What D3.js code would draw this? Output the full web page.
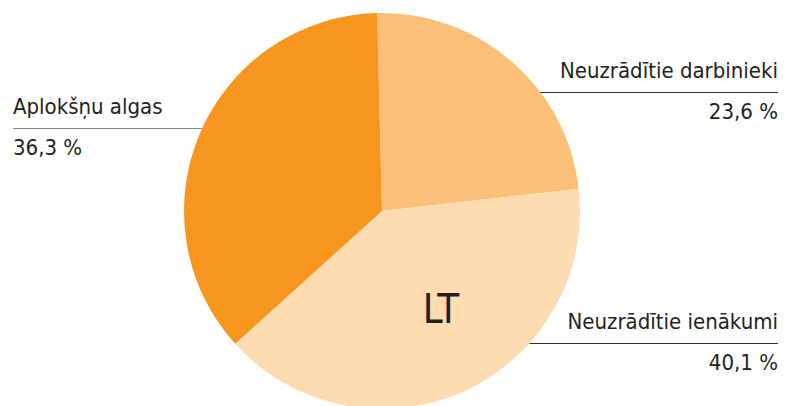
<!DOCTYPE html>
<html>
<head>
<meta charset="utf-8">
<script src="https://cdn.jsdelivr.net/npm/d3@7"></script>
<style>
  body { margin: 0; background: #fff; }
  text { font-family: "DejaVu Sans Condensed", "DejaVu Sans", sans-serif; fill: #231f20; }
</style>
</head>
<body>
<script>
// data
const categories = ["Neuzrādītie darbinieki", "Neuzrādītie ienākumi", "Aplokšņu algas"];
const values = [23.6, 40.1, 36.3];
const valueLabels = ["23,6 %", "40,1 %", "36,3 %"];
const colors = ["#fcbf77", "#fedbb1", "#f7961f"];
const centerLabel = "LT";

const width = 795, height = 406;
const cx = 382, cy = 211, r = 198;

const svg = d3.select("body").append("svg")
  .attr("width", width)
  .attr("height", height);

const startAngle = -0.025;
const pie = d3.pie().sort(null)
  .startAngle(startAngle)
  .endAngle(startAngle + 2 * Math.PI);
const arcs = pie(values);
const arc = d3.arc().innerRadius(0).outerRadius(r);

const g = svg.append("g").attr("transform", `translate(${cx},${cy})`);
g.selectAll("path")
  .data(arcs)
  .enter().append("path")
  .attr("d", arc)
  .attr("fill", (d, i) => colors[i]);

// label layout: line y, side
const labelPos = [
  { y: 92, side: "right", lineColor: "#333" },
  { y: 343, side: "right", lineColor: "#333" },
  { y: 128, side: "left", lineColor: "#8a8a8a" }
];

labelPos.forEach((p, i) => {
  const dy = p.y - cy;
  const dx = Math.sqrt(r * r - dy * dy);
  const edgeX = p.side === "right" ? cx + dx : cx - dx;
  const outerX = p.side === "right" ? 778 : 13;
  svg.append("line")
    .attr("x1", edgeX).attr("x2", outerX)
    .attr("y1", p.y + 0.5).attr("y2", p.y + 0.5)
    .attr("stroke", p.lineColor)
    .attr("stroke-width", 1);
  const anchor = p.side === "right" ? "end" : "start";
  svg.append("text")
    .attr("x", outerX).attr("y", p.y - 14)
    .attr("text-anchor", anchor)
    .style("font-size", "22px")
    .text(categories[i]);
  svg.append("text")
    .attr("x", outerX).attr("y", p.y + 27)
    .attr("text-anchor", anchor)
    .style("font-size", "22px")
    .text(valueLabels[i]);
});

// center label in the biggest slice
svg.append("text")
  .attr("x", 441).attr("y", 323)
  .attr("text-anchor", "middle")
  .style("font-size", "40px")
  .text(centerLabel);
</script>
</body>
</html>
